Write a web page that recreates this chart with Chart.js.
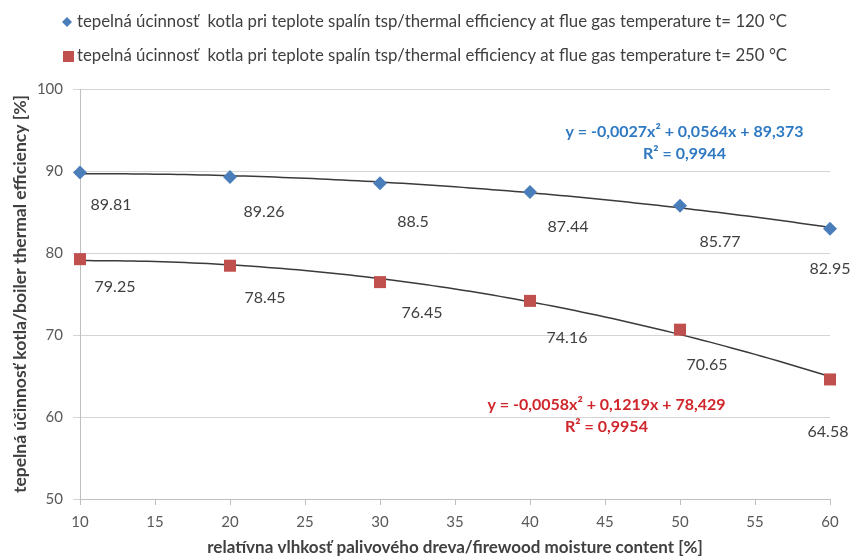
<!DOCTYPE html>
<html><head><meta charset="utf-8">
<script src="https://cdn.jsdelivr.net/npm/chart.js@4"></script>
<style>html,body{margin:0;padding:0;background:#fff}#wrap{width:853px;height:558px;position:relative}</style>
</head><body><div id="wrap"><canvas id="c" width="853" height="558"></canvas></div>
<script>
// ---- data ----
const moisture = [10, 20, 30, 40, 50, 60];
const eff120 = [89.81, 89.26, 88.5, 87.44, 85.77, 82.95];
const eff250 = [79.25, 78.45, 76.45, 74.16, 70.65, 64.58];
const seriesNames = [
  'tepelná úcinnosť  kotla pri teplote spalín tsp/thermal efficiency at flue gas temperature t= 120 °C',
  'tepelná úcinnosť  kotla pri teplote spalín tsp/thermal efficiency at flue gas temperature t= 250 °C'
];
const eq120 = ['y = -0,0027x² + 0,0564x + 89,373', 'R² = 0,9944'];
const eq250 = ['y = -0,0058x² + 0,1219x + 78,429', 'R² = 0,9954'];
const yTitle = 'tepelná účinnosť kotla/boiler thermal efficiency [%]';
const xTitle = 'relatívna vlhkosť palivového dreva/firewood moisture content [%]';

// ---- styles ----
const FONT = 'Lato, "Open Sans", sans-serif';
const TXT = '#404040';
const BLUE = '#4a7ebb';
const RED = '#c0504d';
const labelOffsets = [
  [[31, 32], [34, 35], [33, 39], [38, 35], [40, 36], [0, 40]],
  [[35, 28], [35, 32], [42, 31], [37, 37], [27, 35], [-2, 52]]
];
const eqStyle = [
  {color: '#2e79c2', at: [50.3, 94.8]},
  {color: '#d0252a', at: [45.1, 61.5]}
];

function quadFit(xs, ys) {
  let s = [0,0,0,0,0], t = [0,0,0];
  for (let i = 0; i < xs.length; i++) {
    let p = 1;
    for (let k = 0; k < 5; k++) { s[k] += p; if (k < 3) t[k] += p * ys[i]; p *= xs[i]; }
  }
  const A = [[s[0], s[1], s[2], t[0]], [s[1], s[2], s[3], t[1]], [s[2], s[3], s[4], t[2]]];
  for (let i = 0; i < 3; i++) {
    for (let j = i + 1; j < 3; j++) {
      const f = A[j][i] / A[i][i];
      for (let k = i; k < 4; k++) A[j][k] -= f * A[i][k];
    }
  }
  const c = [0,0,0];
  for (let i = 2; i >= 0; i--) {
    let v = A[i][3];
    for (let k = i + 1; k < 3; k++) v -= A[i][k] * c[k];
    c[i] = v / A[i][i];
  }
  return c; // c0 + c1 x + c2 x^2
}

const overlay = {
  id: 'overlay',
  beforeDatasetsDraw(chart) {
    const {ctx, scales: {x, y}} = chart;
    ctx.save();
    ctx.strokeStyle = '#3a3a3a';
    ctx.lineWidth = 1.5;
    [eff120, eff250].forEach(vals => {
      const c = quadFit(moisture, vals);
      ctx.beginPath();
      const x0 = moisture[0], x1 = moisture[moisture.length - 1];
      for (let i = 0; i <= 100; i++) {
        const xv = x0 + (x1 - x0) * i / 100;
        const yv = c[0] + c[1] * xv + c[2] * xv * xv;
        const px = x.getPixelForValue(xv), py = y.getPixelForValue(yv);
        if (i === 0) ctx.moveTo(px, py); else ctx.lineTo(px, py);
      }
      ctx.stroke();
    });
    ctx.restore();
  },
  afterDatasetsDraw(chart) {
    const {ctx, scales: {x, y}} = chart;
    ctx.save();
    // data labels
    ctx.font = '16px ' + FONT;
    ctx.fillStyle = TXT;
    ctx.textAlign = 'center';
    ctx.textBaseline = 'middle';
    [eff120, eff250].forEach((vals, si) => {
      vals.forEach((v, i) => {
        const px = x.getPixelForValue(moisture[i]) + labelOffsets[si][i][0];
        const py = y.getPixelForValue(v) + labelOffsets[si][i][1];
        ctx.fillText(String(v), px, py);
      });
    });
    // equations
    ctx.font = 'bold 16px ' + FONT;
    [eq120, eq250].forEach((eq, si) => {
      ctx.fillStyle = eqStyle[si].color;
      const px = x.getPixelForValue(eqStyle[si].at[0]);
      const py = y.getPixelForValue(eqStyle[si].at[1]);
      ctx.fillText(eq[0], px, py);
      ctx.fillText(eq[1], px, py + 22);
    });
    // legend
    ctx.textAlign = 'left';
    ctx.font = '16.8px ' + FONT;
    ctx.fillStyle = TXT;
    ctx.fillText(seriesNames[0], 77, 22);
    ctx.fillText(seriesNames[1], 77, 56);
    ctx.fillStyle = BLUE;
    ctx.beginPath();
    ctx.moveTo(67, 17); ctx.lineTo(72, 22); ctx.lineTo(67, 27); ctx.lineTo(62, 22); ctx.closePath();
    ctx.fill();
    ctx.fillStyle = RED;
    ctx.fillRect(63, 51, 11, 11);
    ctx.restore();
  }
};

new Chart(document.getElementById('c'), {
  type: 'scatter',
  data: {
    datasets: [
      {label: seriesNames[0], data: moisture.map((m, i) => ({x: m, y: eff120[i]})),
       pointStyle: 'rectRot', pointRadius: 7, pointHoverRadius: 7, clip: false,
       backgroundColor: BLUE, borderColor: BLUE, borderWidth: 0},
      {label: seriesNames[1], data: moisture.map((m, i) => ({x: m, y: eff250[i]})),
       pointStyle: 'rect', pointRadius: 8.5, pointHoverRadius: 8.5, clip: false,
       backgroundColor: RED, borderColor: RED, borderWidth: 0}
    ]
  },
  options: {
    responsive: false,
    animation: false,
    devicePixelRatio: 1,
    layout: {padding: {top: 89, right: 23, bottom: 0, left: 0}},
    plugins: {legend: {display: false}, tooltip: {enabled: false}},
    scales: {
      x: {
        type: 'linear', min: 10, max: 60,
        ticks: {stepSize: 5, color: '#595959', font: {size: 15, family: FONT}, padding: 8},
        grid: {drawOnChartArea: false, drawTicks: true, tickLength: 6, color: '#bfbfbf'},
        border: {color: '#bfbfbf'},
        title: {display: true, text: xTitle, color: TXT, font: {size: 17, weight: 'bold', family: FONT}, padding: {top: 0, bottom: 0}},
        afterFit(s) { s.height = 59; }
      },
      y: {
        min: 50, max: 100,
        ticks: {stepSize: 10, color: '#595959', font: {size: 15, family: FONT}, padding: 10},
        grid: {color: '#d4d4d4', tickLength: 7},
        border: {color: '#bfbfbf'},
        title: {display: true, text: yTitle, color: TXT, font: {size: 17.5, weight: 'bold', family: FONT}, padding: {top: 10, bottom: 0}},
        afterFit(s) { s.width = 80; }
      }
    }
  },
  plugins: [overlay]
});
</script>
</body></html>
